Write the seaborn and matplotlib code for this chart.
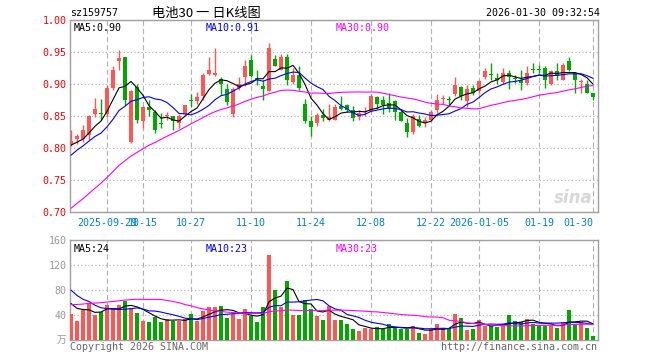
import numpy as np
import pandas as pd
import matplotlib
matplotlib.use("Agg")
import matplotlib.pyplot as plt
import seaborn as sns

# daily candles, 2025-09-19 .. 2026-01-30
dates = ["09-19", "09-22", "09-23", "09-24", "09-25", "09-26", "09-29", "09-30",
         "10-09", "10-10", "10-13", "10-14", "10-15", "10-16", "10-17", "10-20",
         "10-21", "10-22", "10-23", "10-24", "10-27", "10-28", "10-29", "10-30",
         "10-31", "11-03", "11-04", "11-05", "11-06", "11-07", "11-10", "11-11",
         "11-12", "11-13", "11-14", "11-17", "11-18", "11-19", "11-20", "11-21",
         "11-24", "11-25", "11-26", "11-27", "11-28", "12-01", "12-02", "12-03",
         "12-04", "12-05", "12-08", "12-09", "12-10", "12-11", "12-12", "12-15",
         "12-16", "12-17", "12-18", "12-19", "12-22", "12-23", "12-24", "12-25",
         "12-26", "12-29", "12-30", "12-31", "01-05", "01-06", "01-07", "01-08",
         "01-09", "01-12", "01-13", "01-14", "01-15", "01-16", "01-19", "01-20",
         "01-21", "01-22", "01-23", "01-26", "01-27", "01-28", "01-29", "01-30"]
opens = [0.807, 0.815, 0.814, 0.821, 0.853, 0.855, 0.854, 0.894, 0.936, 0.942,
         0.810, 0.896, 0.843, 0.864, 0.857, 0.839, 0.851, 0.850, 0.840, 0.854,
         0.875, 0.874, 0.882, 0.916, 0.915, 0.908, 0.893, 0.854, 0.895, 0.912,
         0.938, 0.910, 0.897, 0.890, 0.939, 0.923, 0.942, 0.904, 0.915, 0.869,
         0.843, 0.840, 0.852, 0.844, 0.845, 0.866, 0.868, 0.860, 0.849, 0.856,
         0.859, 0.880, 0.875, 0.871, 0.874, 0.857, 0.840, 0.826, 0.845, 0.839,
         0.844, 0.860, 0.877, 0.876, 0.885, 0.895, 0.874, 0.894, 0.890, 0.911,
         0.915, 0.910, 0.903, 0.917, 0.909, 0.907, 0.902, 0.923, 0.924, 0.925,
         0.901, 0.920, 0.907, 0.936, 0.917, 0.904, 0.901, 0.886]
highs = [0.829, 0.823, 0.836, 0.852, 0.878, 0.877, 0.899, 0.928, 0.954, 0.942,
         0.891, 0.901, 0.866, 0.875, 0.860, 0.855, 0.857, 0.851, 0.854, 0.868,
         0.885, 0.888, 0.917, 0.943, 0.956, 0.912, 0.901, 0.896, 0.912, 0.938,
         0.946, 0.922, 0.907, 0.964, 0.946, 0.948, 0.948, 0.925, 0.928, 0.877,
         0.851, 0.855, 0.862, 0.870, 0.870, 0.882, 0.870, 0.866, 0.860, 0.864,
         0.885, 0.882, 0.881, 0.887, 0.875, 0.862, 0.847, 0.853, 0.852, 0.849,
         0.860, 0.885, 0.883, 0.882, 0.911, 0.897, 0.899, 0.899, 0.907, 0.925,
         0.934, 0.918, 0.925, 0.922, 0.915, 0.923, 0.928, 0.934, 0.930, 0.928,
         0.922, 0.933, 0.933, 0.943, 0.918, 0.909, 0.907, 0.887]
lows = [0.803, 0.807, 0.810, 0.813, 0.849, 0.844, 0.849, 0.891, 0.922, 0.868,
        0.809, 0.839, 0.831, 0.851, 0.824, 0.831, 0.844, 0.829, 0.831, 0.852,
        0.864, 0.870, 0.875, 0.915, 0.913, 0.884, 0.868, 0.849, 0.891, 0.897,
        0.912, 0.899, 0.875, 0.889, 0.928, 0.922, 0.899, 0.901, 0.891, 0.839,
        0.819, 0.835, 0.842, 0.843, 0.844, 0.860, 0.856, 0.842, 0.844, 0.851,
        0.857, 0.862, 0.854, 0.857, 0.844, 0.842, 0.817, 0.823, 0.834, 0.834,
        0.843, 0.855, 0.870, 0.866, 0.882, 0.875, 0.864, 0.883, 0.887, 0.908,
        0.907, 0.901, 0.901, 0.892, 0.902, 0.891, 0.899, 0.917, 0.917, 0.895,
        0.899, 0.907, 0.906, 0.920, 0.887, 0.887, 0.886, 0.875]
closes = [0.812, 0.819, 0.829, 0.850, 0.862, 0.853, 0.894, 0.922, 0.941, 0.875,
          0.890, 0.844, 0.864, 0.860, 0.829, 0.838, 0.852, 0.843, 0.850, 0.868,
          0.874, 0.880, 0.915, 0.922, 0.917, 0.901, 0.873, 0.893, 0.900, 0.929,
          0.913, 0.908, 0.893, 0.956, 0.929, 0.942, 0.906, 0.915, 0.894, 0.842,
          0.834, 0.852, 0.848, 0.849, 0.864, 0.862, 0.860, 0.848, 0.855, 0.859,
          0.881, 0.870, 0.868, 0.862, 0.857, 0.843, 0.825, 0.851, 0.835, 0.844,
          0.857, 0.875, 0.878, 0.875, 0.899, 0.881, 0.892, 0.887, 0.905, 0.921,
          0.914, 0.907, 0.918, 0.911, 0.908, 0.902, 0.917, 0.922, 0.923, 0.906,
          0.920, 0.913, 0.930, 0.922, 0.907, 0.905, 0.887, 0.880]
volumes = [42, 31, 49, 59, 40, 45, 56, 51, 56, 63,
           51, 44, 31, 29, 37, 29, 33, 31, 31, 33,
           42, 31, 47, 53, 53, 54, 36, 41, 33, 50,
           38, 29, 53, 136, 80, 53, 94, 40, 40, 64,
           50, 38, 32, 55, 32, 32, 25, 18, 14, 20,
           18, 21, 17, 25, 20, 18, 18, 22, 12, 9,
           18, 26, 20, 20, 42, 36, 16, 18, 32, 23,
           23, 21, 23, 40, 30, 29, 34, 26, 22, 23,
           23, 20, 29, 48, 25, 29, 20, 7]

# days before the window (not drawn), only needed to start the moving averages
close_before = [0.595, 0.602, 0.610, 0.615, 0.620, 0.628, 0.640, 0.652, 0.660, 0.668,
                0.676, 0.690, 0.695, 0.700, 0.690, 0.705, 0.712, 0.708, 0.718, 0.716,
                0.740, 0.762, 0.775, 0.790, 0.800, 0.796, 0.805, 0.802, 0.810]
volume_before = [25, 30, 24, 28, 27, 22, 26, 24, 27, 28,
                 30, 32, 36, 34, 38, 70, 85, 90, 120, 105,
                 117, 110, 95, 100, 85, 70, 58, 62, 60]

tick_days = ["09-29", "10-15", "10-27", "11-10", "11-24", "12-08", "12-22", "01-05", "01-19", "01-30"]
tick_labels = ["2025-09-29", "10-15", "10-27", "11-10", "11-24", "12-08", "12-22", "2026-01-05", "01-19", "01-30"]

RED = "#FF5555"
GREEN = "#00A800"
GRID = "#B0B0B0"
EDGE = "#A0A0A0"

sns.set_style("white")
plt.rcParams["font.family"] = ["DejaVu Sans Mono", "Noto Sans CJK SC"]
plt.rcParams["font.size"] = 7.2

x = np.arange(len(dates))
o = np.array(opens)
c = np.array(closes)
colors = np.where(c >= o, RED, GREEN)
ticks = [dates.index(d) for d in tick_days]

fig = plt.figure(figsize=(6.6, 3.6), dpi=100)
W, H = 660, 360
ax1 = fig.add_axes([70 / W, 1 - 212.3 / H, 528 / W, 192 / H])
ax2 = fig.add_axes([70 / W, 1 - 340 / H, 528 / W, 100 / H])

# price panel
ax1.vlines(x, lows, highs, colors=colors, linewidth=1, zorder=3)
body = np.maximum(np.abs(c - o), 0.0016)
ax1.bar(x, body, bottom=np.minimum(o, c), width=0.8, color=colors, linewidth=0, zorder=4)

close_all = pd.Series(close_before + closes)
for n, col in [(5, "black"), (10, "#0000FF"), (30, "#FF00FF")]:
    ma = close_all.rolling(n).mean().iloc[len(close_before):].values
    sns.lineplot(x=x, y=ma, ax=ax1, color=col, linewidth=0.8, legend=False, zorder=5)

ax1.set_xlim(-0.17, 87.83)
ax1.set_ylim(0.70, 1.00)
ax1.set_yticks([0.70, 0.75, 0.80, 0.85, 0.90, 0.95, 1.00])
ax1.set_yticklabels(["0.70", "0.75", "0.80", "0.85", "0.90", "0.95", "1.00"], color="#FF0000")
ax1.set_xticks(ticks)
ax1.set_xticklabels(tick_labels, color="#0080D0")
ax1.get_xticklabels()[-1].set_ha("right")
ax1.tick_params(length=0, pad=2.5)
ax1.tick_params(axis="x", pad=4)
ax1.set_xlabel("")
ax1.set_ylabel("")

ax1.text(4 / 528, 0.985, "MA5:0.90", transform=ax1.transAxes, color="black", va="top")
ax1.text(136 / 528, 0.985, "MA10:0.91", transform=ax1.transAxes, color="#0000FF", va="top")
ax1.text(266 / 528, 0.985, "MA30:0.90", transform=ax1.transAxes, color="#FF00FF", va="top")
ax1.text(0.99, 0.03, "sina", transform=ax1.transAxes, ha="right", va="bottom",
         color="#D8D8D8", fontsize=12, fontweight="bold", style="italic", family="DejaVu Sans")

# volume panel
ax2.bar(x, volumes, width=0.8, color=colors, linewidth=0, zorder=3)
vol_all = pd.Series(volume_before + volumes)
for n, col in [(5, "black"), (10, "#0000FF"), (30, "#FF00FF")]:
    ma = vol_all.rolling(n).mean().iloc[len(volume_before):].values
    sns.lineplot(x=x, y=ma, ax=ax2, color=col, linewidth=0.8, legend=False, zorder=5)

ax2.set_xlim(-0.17, 87.83)
ax2.set_ylim(0, 160)
ax2.set_yticks([0, 40, 80, 120, 160])
ax2.set_yticklabels(["", "40", "80", "120", "160"], color="#999999")
ax2.set_xticks(ticks)
ax2.set_xticklabels([])
ax2.tick_params(length=0, pad=2.5)
ax2.set_xlabel("")
ax2.set_ylabel("")

ax2.text(4 / 528, 0.96, "MA5:24", transform=ax2.transAxes, color="black", va="top")
ax2.text(136 / 528, 0.96, "MA10:23", transform=ax2.transAxes, color="#0000FF", va="top")
ax2.text(266 / 528, 0.96, "MA30:23", transform=ax2.transAxes, color="#FF00FF", va="top")
ax2.text(-4 / 528, 0.0, "万", transform=ax2.transAxes, ha="right", va="center",
         color="#999999", family=["Noto Sans CJK SC"], fontsize=7)

for ax in (ax1, ax2):
    ax.set_axisbelow(True)
    ax.yaxis.grid(True, linestyle=(0, (1, 2.2)), color=GRID, linewidth=0.8)
    ax.xaxis.grid(True, linestyle=(0, (4.5, 2.8)), color=GRID, linewidth=0.8)
    for s in ax.spines.values():
        s.set_color(EDGE)
        s.set_linewidth(1)
        s.set_visible(True)

# header and footer
fig.text(70 / W, 1 - 13.5 / H, "sz159757", color="black", va="center", ha="left")
fig.text(206 / W, 1 - 13 / H, "电池30 一 日K线图", color="black", va="center", ha="center",
         family=["Noto Sans CJK SC"], fontsize=9.5)
fig.text(600 / W, 1 - 13.5 / H, "2026-01-30 09:32:54", color="black", va="center", ha="right")
fig.text(70 / W, 1 - 347 / H, "Copyright 2026 SINA.COM", color="#666666", va="center", ha="left")
fig.text(597 / W, 1 - 347 / H, "http://finance.sina.com.cn", color="#666666", va="center", ha="right")

fig.savefig("out.png", dpi=100)
